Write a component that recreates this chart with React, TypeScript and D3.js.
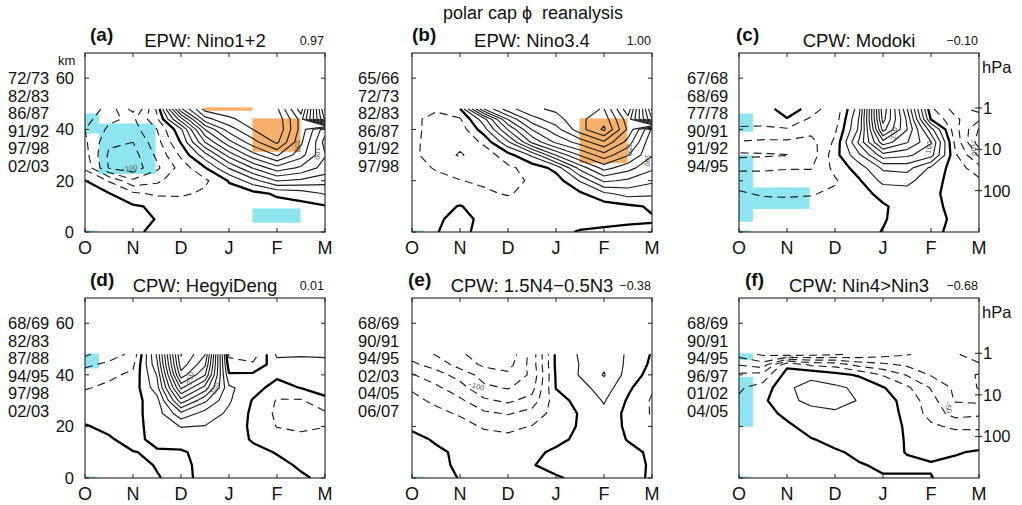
import React from "react";
import * as d3 from "d3";

// ---------------- data ----------------
const MONTH_LABELS = ["O", "N", "D", "J", "F", "M"];
const GRID_MONTHS = [0, 0.5, 1, 1.5, 2, 2.5, 3, 3.5, 4, 4.5, 5];
// row order of every field below (top -> bottom), km
const GRID_KM = [48, 44, 40, 35, 30, 25, 20, 15, 10, 5, 0];
const KM_TICKS = [0, 20, 40, 60];
const HPA_TICKS = [1, 10, 100];
const SCALE_HEIGHT_KM = 7;
const CONTOUR_LEVELS = [
  -200, -175, -150, -125, -100, -75, -50, -25, 0, 25, 50, 75, 100, 125, 150, 175,
  200, 225, 250, 275, 300, 325, 350, 375, 400,
];

const FIELD_A = [
  [-30, -60, -110, -20, 170, 260, 265, 265, 255, 160, 380],
  [-40, -70, -80, -30, 90, 215, 245, 262, 268, 190, 355],
  [-50, -80, -85, -50, 20, 150, 212, 250, 272, 190, 110],
  [-45, -95, -100, -60, 2, 100, 167, 215, 255, 180, 90],
  [-40, -105, -110, -70, -20, 40, 110, 165, 203, 160, 102],
  [-30, -102, -115, -80, -40, -2, 52, 102, 141, 120, 90],
  [1, -27, -70, -55, -35, -30, 2, 40, 76, 70, 60],
  [8, 1, -20, -30, -30, -20, -10, -8, 4, 12, 27],
  [15, 10, 3, -4, -8, -10, -10, -8, -10, -8, -2],
  [18, 12, 8, -1, -5, -8, -8, -6, -5, -4, -3],
  [15, 10, 5, -6, -8, -6, -6, -5, -5, -4, -3],
];
const FIELD_B = [
  [-15, -22, -1, 150, 215, 245, 255, 270, 276, 180, 380],
  [-20, -32, -28, 40, 152, 215, 240, 270, 290, 210, 350],
  [-18, -35, -40, 15, 102, 176, 215, 265, 305, 220, 120],
  [-18, -38, -45, -20, 45, 130, 180, 210, 245, 190, 102],
  [-18, -40, -52, -40, -10, 30, 102, 152, 190, 152, 102],
  [-12, -28, -38, -35, -30, -15, 8, 85, 135, 110, 80],
  [-5, -15, -24, -30, -32, -22, -12, 27, 80, 70, 55],
  [-3, -5, -12, -20, -28, -15, -8, -4, 20, 35, 30],
  [-3, -6, 1, -8, -10, -10, -10, -10, -12, -5, 3],
  [-3, -4, 8, -6, -6, -6, -5, -5, -5, -3, -2],
  [-3, -1, 8, -10, -5, -4, -3, 1, 3, 4, 5],
];
const FIELD_C = [
  [-15, -14, 15, -10, -45, 40, 295, 152, -20, -60, -40],
  [-20, -15, -2, -30, -40, 52, 285, 170, -2, -45, -70],
  [-27, -30, -28, -40, -30, 55, 260, 176, 60, -40, -102],
  [-52, -55, -55, -60, -20, 80, 190, 152, 102, -30, -115],
  [-80, -78, -76, -65, -10, 45, 115, 105, 85, -20, -80],
  [-55, -55, -52, -52, -18, 12, 55, 60, 20, -12, -40],
  [-35, -35, -35, -35, -28, -3, 32, 32, 10, -10, -20],
  [-22, -28, -28, -27, -20, -10, 8, 15, 5, -8, -12],
  [-12, -15, -18, -16, -15, -12, -3, 10, 6, -6, -8],
  [-6, -8, -10, -10, -10, -10, -2, 10, 6, -3, -5],
  [-3, -5, -6, -6, -8, -8, 1, 10, 5, -5, -5],
];
const FIELD_D = [
  [-80, -60, -45, 80, 302, 252, -30, -40, 30, 28, 30],
  [-55, -45, -30, 70, 290, 230, -15, -20, 15, 15, 15],
  [-40, -30, -20, 52, 265, 202, 3, 5, 5, 8, 10],
  [-27, -20, -15, 40, 205, 140, 30, 10, -10, 1, 5],
  [-15, -12, -10, 15, 140, 80, 28, -2, -27, -28, -3],
  [-10, -8, -8, 12, 68, 40, 20, -5, -30, -35, -30],
  [2, -6, -8, 10, 26, 24, 15, -5, -26, -30, -26],
  [8, 3, -10, 10, 12, 15, 10, -2, -12, -18, -12],
  [10, 8, 1, -4, -3, 8, 8, 5, -1, -8, -8],
  [12, 10, 5, -1, -5, 6, 6, 6, 4, -2, -5],
  [10, 10, 8, 1, -5, 5, 5, 5, 5, 2, -3],
];
const FIELD_E = [
  [-85, -102, -120, -140, -145, -90, 5, 28, 40, 22, -2],
  [-70, -85, -110, -130, -135, -90, 5, 26, 45, 20, -5],
  [-48, -65, -85, -110, -120, -95, 3, 27, 52, 15, -10],
  [-28, -45, -65, -95, -102, -85, 1, 15, 38, 5, -22],
  [-18, -30, -45, -70, -80, -65, -10, 8, 27, -3, -28],
  [-10, -18, -28, -45, -52, -40, -15, 2, 20, -8, -27],
  [-3, -8, -15, -28, -30, -24, -14, 3, 15, -5, -20],
  [5, -2, -8, -15, -20, -15, -6, 5, 10, -1, -8],
  [8, 3, -3, -8, -10, -5, 4, 6, 8, 5, -3],
  [10, 6, -4, -5, -6, -1, 6, 6, 6, 6, -2],
  [10, 8, -1, -3, -4, -3, -2, 4, 4, 5, -2],
];
const FIELD_F = [
  [-110, -130, -140, -135, -130, -120, -110, -102, -90, -80, -52],
  [-77, -90, -6, -30, -35, -60, -70, -80, -85, -85, -80],
  [-45, -40, 10, 20, 8, -3, -27, -52, -77, -90, -102],
  [-28, -15, 22, 32, 30, 20, 2, -20, -52, -80, -102],
  [-22, -5, 20, 30, 32, 24, 10, -8, -40, -77, -80],
  [-15, -8, 5, 18, 22, 15, 10, -5, -35, -60, -55],
  [-10, -8, -4, 8, 12, 10, 8, -2, -20, -30, -30],
  [-6, -6, -5, -1, 5, 6, 6, -1, -8, -10, -10],
  [-4, -4, -4, -3, -2, 3, 4, -0.5, -3, -1.5, 2],
  [-3, -3, -3, -3, -3, -1, 2, 2, 1, 4, 5],
  [-2, -2, -2, -2, -3, -3, -1, -1, -0.5, 5, 6],
];

const YEARS_A = ["72/73", "82/83", "86/87", "91/92", "97/98", "02/03"];
const YEARS_B = ["65/66", "72/73", "82/83", "86/87", "91/92", "97/98"];
const YEARS_C = ["67/68", "68/69", "77/78", "90/91", "91/92", "94/95"];
const YEARS_D = ["68/69", "82/83", "87/88", "94/95", "97/98", "02/03"];
const YEARS_E = ["68/69", "90/91", "94/95", "02/03", "04/05", "06/07"];
const YEARS_F = ["68/69", "90/91", "94/95", "96/97", "01/02", "04/05"];

// significance boxes: month range, km range, kind
const BOXES_A = [
  { m0: 0, m1: 0.29, z0: 38.4, z1: 46.2, kind: "neg" },
  { m0: 0.29, m1: 1.47, z0: 22.6, z1: 42.3, kind: "neg" },
  { m0: 3.49, m1: 4.49, z0: 3.6, z1: 9.2, kind: "neg" },
  { m0: 0, m1: 0.25, z0: 0, z1: 0.6, kind: "neg" },
  { m0: 2.48, m1: 3.49, z0: 47.3, z1: 48.6, kind: "pos" },
  { m0: 3.49, m1: 4.49, z0: 31.3, z1: 44.3, kind: "pos" },
];
const BOXES_B = [
  { m0: 0, m1: 0.25, z0: 0, z1: 0.6, kind: "neg" },
  { m0: 3.49, m1: 4.49, z0: 26.8, z1: 44.3, kind: "pos" },
];
const BOXES_C = [
  { m0: 0, m1: 0.29, z0: 39.1, z1: 46.2, kind: "neg" },
  { m0: 0, m1: 0.29, z0: 4, z1: 30, kind: "neg" },
  { m0: 0.29, m1: 1.47, z0: 9, z1: 17.4, kind: "neg" },
  { m0: 0, m1: 0.25, z0: 0, z1: 0.6, kind: "neg" },
];
const BOXES_D = [
  { m0: 0, m1: 0.29, z0: 42.5, z1: 48.3, kind: "neg" },
  { m0: 0, m1: 0.25, z0: 0, z1: 0.6, kind: "neg" },
];
const BOXES_E = [{ m0: 0, m1: 0.25, z0: 0, z1: 0.6, kind: "neg" }];
const BOXES_F = [
  { m0: 0, m1: 0.29, z0: 45.7, z1: 48.3, kind: "neg" },
  { m0: 0, m1: 0.29, z0: 19.9, z1: 39.2, kind: "neg" },
  { m0: 0, m1: 0.25, z0: 0, z1: 0.6, kind: "neg" },
];

// contour labels: text, month, km, rotation
const LABELS_A = [
  { t: "−100", m: 0.92, z: 24.5, r: -10 },
  { t: "250", m: 4.42, z: 33.5, r: 90 },
  { t: "100", m: 4.84, z: 30.6, r: 90 },
];
const LABELS_B = [
  { t: "250", m: 4.53, z: 32, r: 90 },
  { t: "100", m: 4.9, z: 28, r: 90 },
];
const LABELS_C = [
  { t: "250", m: 3.24, z: 38.4, r: -80 },
  { t: "100", m: 3.97, z: 33, r: -80 },
  { t: "−100", m: 4.87, z: 33, r: 80 },
];
const LABELS_D = [
  { t: "250", m: 2.2, z: 38.6, r: -80 },
  { t: "100", m: 2.72, z: 34.7, r: -70 },
];
const LABELS_E = [{ t: "−100", m: 1.33, z: 35.4, r: 15 }];
const LABELS_F = [
  { t: "−50", m: 1.0, z: 46.3, r: -10 },
  { t: "−50", m: 4.35, z: 27.6, r: 80 },
];

const PANELS = [
  { tag: "(a)", title: "EPW: Nino1+2", corr: "0.97", years: YEARS_A, field: FIELD_A, boxes: BOXES_A, labels: LABELS_A, row: 0, col: 0, km: true, hpa: false },
  { tag: "(b)", title: "EPW: Nino3.4", corr: "1.00", years: YEARS_B, field: FIELD_B, boxes: BOXES_B, labels: LABELS_B, row: 0, col: 1, km: false, hpa: false },
  { tag: "(c)", title: "CPW: Modoki", corr: "−0.10", years: YEARS_C, field: FIELD_C, boxes: BOXES_C, labels: LABELS_C, row: 0, col: 2, km: false, hpa: true },
  { tag: "(d)", title: "CPW: HegyiDeng", corr: "0.01", years: YEARS_D, field: FIELD_D, boxes: BOXES_D, labels: LABELS_D, row: 1, col: 0, km: true, hpa: false },
  { tag: "(e)", title: "CPW: 1.5N4−0.5N3", corr: "−0.38", years: YEARS_E, field: FIELD_E, boxes: BOXES_E, labels: LABELS_E, row: 1, col: 1, km: false, hpa: false },
  { tag: "(f)", title: "CPW: Nin4>Nin3", corr: "−0.68", years: YEARS_F, field: FIELD_F, boxes: BOXES_F, labels: LABELS_F, row: 1, col: 2, km: false, hpa: true },
];

const SUPER_TITLE = "polar cap ϕ  reanalysis";

// ---------------- layout ----------------
const W = 1022;
const H = 505;
const FONT = "'Liberation Sans', Arial, Helvetica, sans-serif";
const COL_LEFT = [85, 412, 739];
const PLOT_W = 240;
const ROW_TOP = [53, 298];
const ROW_BOTTOM = [232, 478];
const Z_MAX = 69.8;
const YEAR_X = [8, 358, 687];
const TAG_DX = [
  [5, 0, -3],
  [5, -4, 6],
];
const COLORS = { neg: "#8ee5f0", pos: "#f5b06c" };

type Pt = [number, number];

function contourLines(field: number[][]) {
  const rows = field.slice().reverse();
  const kms = GRID_KM.slice().reverse();
  const n = GRID_MONTHS.length;
  const m = rows.length;
  const values = rows.flat();
  const idxToMonth = d3.scaleLinear().domain(GRID_MONTHS.map((_, i) => i)).range(GRID_MONTHS).clamp(true);
  const idxToKm = d3.scaleLinear().domain(kms.map((_, i) => i)).range(kms).clamp(true);
  const gen = d3.contours().size([n, m]).thresholds(CONTOUR_LEVELS.map((v) => v + 1e-6));
  const conv = (p: number[]): Pt => [idxToMonth(p[0] - 0.5), idxToKm(p[1] - 0.5)];
  const eps = 1e-9;
  const isB = (p: number[]) => p[0] <= eps || p[0] >= n - eps || p[1] <= eps || p[1] >= m - eps;
  const out: { level: number; pts: Pt[]; closed: boolean }[] = [];
  for (const c of gen(values)) {
    const level = Math.round(c.value);
    for (const poly of c.coordinates) {
      for (const ring of poly) {
        const pts = ring.slice(0, -1);
        const bi = pts.findIndex(isB);
        if (bi < 0) {
          out.push({ level, pts: pts.map(conv), closed: true });
          continue;
        }
        const rot = pts.slice(bi).concat(pts.slice(0, bi));
        let cur: number[][] = [];
        for (const p of rot) {
          if (isB(p)) {
            if (cur.length > 1) out.push({ level, pts: cur.map(conv), closed: false });
            cur = [];
          } else cur.push(p);
        }
        if (cur.length > 1) out.push({ level, pts: cur.map(conv), closed: false });
      }
    }
  }
  return out;
}

function Panel({ p, idx }: { p: (typeof PANELS)[number]; idx: number }) {
  const left = COL_LEFT[p.col];
  const right = left + PLOT_W;
  const top = ROW_TOP[p.row];
  const bottom = ROW_BOTTOM[p.row];
  const x = d3.scaleLinear().domain([0, 5]).range([left, right]);
  const y = d3.scaleLinear().domain([0, Z_MAX]).range([bottom, top]);
  const lines = contourLines(p.field);
  const line = d3
    .line<Pt>()
    .x((d) => x(d[0]))
    .y((d) => y(d[1]));
  const clipId = `clip-${idx}`;
  const cx = (left + right) / 2;
  const hpaToKm = (hp: number) => SCALE_HEIGHT_KM * Math.log(1000 / hp);

  return (
    <g>
      <defs>
        <clipPath id={clipId}>
          <rect x={left} y={top} width={PLOT_W} height={bottom - top} />
        </clipPath>
      </defs>
      {/* titles */}
      <text x={left + TAG_DX[p.row][p.col]} y={top - 12} fontSize={19} fontWeight="bold" fontFamily={FONT} fill="#111">
        {p.tag}
      </text>
      <text x={cx} y={top - 6} fontSize={18.5} textAnchor="middle" fontFamily={FONT} fill="#111">
        {p.title}
      </text>
      <text x={right - 1} y={top - 8.5} fontSize={12.5} textAnchor="end" fontFamily={FONT} fill="#111">
        {p.corr}
      </text>
      {/* years */}
      {p.years.map((yr, i) => (
        <text key={yr + i} x={YEAR_X[p.col]} y={top + 31 + i * 17.6} fontSize={16.5} fontFamily={FONT} fill="#111">
          {yr}
        </text>
      ))}
      {/* shading + contours */}
      <g clipPath={`url(#${clipId})`}>
        {p.boxes.map((b, i) => (
          <rect
            key={i}
            x={x(b.m0)}
            y={y(b.z1)}
            width={x(b.m1) - x(b.m0)}
            height={y(b.z0) - y(b.z1)}
            fill={COLORS[b.kind as "neg" | "pos"]}
          />
        ))}
        {lines.map((l, i) => {
          const pts = l.closed ? [...l.pts, l.pts[0]] : l.pts;
          const zero = l.level === 0;
          const neg = l.level < 0;
          return (
            <path
              key={i}
              d={line(pts) || ""}
              fill="none"
              stroke={zero ? "#000" : "#1e1e1e"}
              strokeWidth={zero ? 2.3 : 1.15}
              strokeDasharray={neg ? "8 5" : undefined}
              strokeLinejoin="round"
            />
          );
        })}
        {p.labels.map((lb, i) => (
          <text
            key={i}
            x={x(lb.m)}
            y={y(lb.z)}
            fontSize={7.5}
            fill="#555"
            fontFamily={FONT}
            textAnchor="middle"
            dominantBaseline="middle"
            transform={`rotate(${lb.r},${x(lb.m)},${y(lb.z)})`}
          >
            {lb.t}
          </text>
        ))}
      </g>
      {/* frame */}
      <rect x={left} y={top} width={PLOT_W} height={bottom - top} fill="none" stroke="#222" strokeWidth={1.1} />
      {MONTH_LABELS.map((ml, i) => (
        <g key={ml}>
          <line x1={x(i)} x2={x(i)} y1={bottom} y2={bottom - 4} stroke="#222" />
          <line x1={x(i)} x2={x(i)} y1={top} y2={top + 4} stroke="#222" />
          <text x={x(i)} y={bottom + 22} fontSize={18} textAnchor="middle" fontFamily={FONT} fill="#111">
            {ml}
          </text>
        </g>
      ))}
      {KM_TICKS.map((k) => (
        <g key={k}>
          <line x1={left} x2={left + 4} y1={y(k)} y2={y(k)} stroke="#222" />
          {!p.hpa && <line x1={right} x2={right - 4} y1={y(k)} y2={y(k)} stroke="#222" />}
          {p.km && (
            <text x={left - 11} y={y(k) + 6} fontSize={16.5} textAnchor="end" fontFamily={FONT} fill="#111">
              {k}
            </text>
          )}
        </g>
      ))}
      {p.km && p.row === 0 && (
        <text x={left - 27} y={top + 12} fontSize={13} fontFamily={FONT} fill="#111">
          km
        </text>
      )}
      {p.hpa && (
        <g>
          <text x={right + 3} y={top + 20} fontSize={16.5} fontFamily={FONT} fill="#111">
            hPa
          </text>
          {HPA_TICKS.map((hp) => (
            <g key={hp}>
              <line x1={right - 4} x2={right + 3} y1={y(hpaToKm(hp))} y2={y(hpaToKm(hp))} stroke="#222" />
              <text x={right + 4} y={y(hpaToKm(hp)) + 6} fontSize={16.5} fontFamily={FONT} fill="#111">
                {hp}
              </text>
            </g>
          ))}
        </g>
      )}
    </g>
  );
}

export default function App() {
  return (
    <svg
      width={W}
      height={H}
      viewBox={`0 0 ${W} ${H}`}
      style={{ position: "absolute", left: 0, top: 0, background: "#fff" }}
    >
      <rect x={0} y={0} width={W} height={H} fill="#fff" />
      <text x={533} y={19} fontSize={18} textAnchor="middle" fontFamily={FONT} fill="#111" style={{ whiteSpace: "pre" }}>
        {SUPER_TITLE}
      </text>
      {PANELS.map((p, i) => (
        <Panel key={p.tag} p={p} idx={i} />
      ))}
    </svg>
  );
}
